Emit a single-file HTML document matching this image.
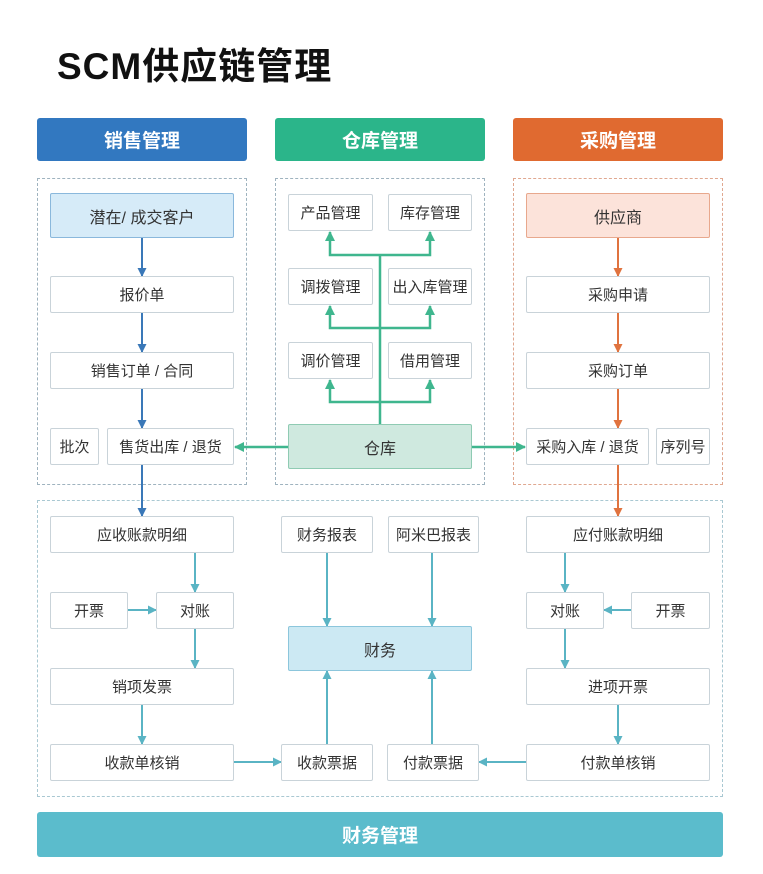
<!DOCTYPE html>
<html><head><meta charset="utf-8"><style>
body{margin:0;width:763px;height:874px;background:#fff;position:relative;overflow:hidden;font-family:"Liberation Sans","Noto Sans CJK SC",sans-serif;}
.a{position:absolute;box-sizing:border-box;display:flex;align-items:center;justify-content:center;}
.h{color:#fff;font-weight:bold;font-size:19px;border-radius:3px;}
.b{border:1px solid #c9d3d9;background:#fff;color:#333;font-size:15px;border-radius:2px;}
.d{border:1px dashed #9fb3bf;}
svg{position:absolute;left:0;top:0}
</style></head><body>
<div class="a" style="left:57px;top:36px;font-size:37px;letter-spacing:1px;font-weight:bold;color:#111;">SCM供应链管理</div>
<div class="a h" style="left:37px;top:118px;width:210px;height:43px;background:#3278c0">销售管理</div>
<div class="a h" style="left:275px;top:118px;width:210px;height:43px;background:#2bb58a">仓库管理</div>
<div class="a h" style="left:513px;top:118px;width:210px;height:43px;background:#e06a30">采购管理</div>
<div class="a d" style="left:37px;top:178px;width:210px;height:307px"></div>
<div class="a d" style="left:275px;top:178px;width:210px;height:307px"></div>
<div class="a d" style="left:513px;top:178px;width:210px;height:307px;border-color:#e0a890"></div>
<div class="a d" style="left:37px;top:500px;width:686px;height:297px;border-color:#a9c8d2"></div>
<div class="a h" style="left:37px;top:812px;width:686px;height:45px;background:#5bbccc">财务管理</div>

<svg width="763" height="874">
<defs>
<marker id="mb" markerWidth="9" markerHeight="9" refX="8" refY="4.5" orient="auto" markerUnits="userSpaceOnUse"><path d="M0,0L9,4.5L0,9z" fill="#3a78b8"/></marker>
<marker id="mg" markerWidth="10" markerHeight="10" refX="9" refY="5" orient="auto" markerUnits="userSpaceOnUse"><path d="M0,0L10,5L0,10z" fill="#3fb68e"/></marker>
<marker id="mo" markerWidth="9" markerHeight="9" refX="8" refY="4.5" orient="auto" markerUnits="userSpaceOnUse"><path d="M0,0L9,4.5L0,9z" fill="#e0733f"/></marker>
<marker id="mt" markerWidth="9" markerHeight="9" refX="8" refY="4.5" orient="auto" markerUnits="userSpaceOnUse"><path d="M0,0L9,4.5L0,9z" fill="#5ab4c4"/></marker>
</defs>
<g stroke="#3a78b8" stroke-width="2" fill="none" marker-end="url(#mb)">
<line x1="142" y1="238" x2="142" y2="276"/><line x1="142" y1="313" x2="142" y2="352"/><line x1="142" y1="389" x2="142" y2="428"/><line x1="142" y1="465" x2="142" y2="516"/>
</g>
<g stroke="#e0733f" stroke-width="2" fill="none" marker-end="url(#mo)">
<line x1="618" y1="238" x2="618" y2="276"/><line x1="618" y1="313" x2="618" y2="352"/><line x1="618" y1="389" x2="618" y2="428"/><line x1="618" y1="465" x2="618" y2="516"/>
</g>
<g stroke="#3fb68e" stroke-width="2.5" fill="none">
<line x1="380" y1="424" x2="380" y2="255"/>
</g>
<g stroke="#3fb68e" stroke-width="2.5" fill="none" marker-end="url(#mg)">
<polyline points="380,255 330,255 330,232"/><polyline points="380,255 430,255 430,232"/>
<polyline points="380,328 330,328 330,306"/><polyline points="380,328 430,328 430,306"/>
<polyline points="380,402 330,402 330,380"/><polyline points="380,402 430,402 430,380"/>
<line x1="288" y1="447" x2="235" y2="447"/><line x1="472" y1="447" x2="525" y2="447"/>
</g>
<g stroke="#5ab4c4" stroke-width="2" fill="none" marker-end="url(#mt)">
<line x1="195" y1="553" x2="195" y2="592"/><line x1="195" y1="629" x2="195" y2="668"/><line x1="142" y1="705" x2="142" y2="744"/>
<line x1="128" y1="610" x2="156" y2="610"/><line x1="234" y1="762" x2="281" y2="762"/>
<line x1="526" y1="762" x2="479" y2="762"/>
<line x1="327" y1="553" x2="327" y2="626"/><line x1="432" y1="553" x2="432" y2="626"/>
<line x1="327" y1="744" x2="327" y2="671"/><line x1="432" y1="744" x2="432" y2="671"/>
<line x1="565" y1="553" x2="565" y2="592"/><line x1="565" y1="629" x2="565" y2="668"/><line x1="618" y1="705" x2="618" y2="744"/>
<line x1="631" y1="610" x2="604" y2="610"/>
</g>
</svg>

<div class="a b" style="left:50px;top:193px;width:184px;height:45px;background:#d6ebf8;border-color:#8ab8dc;font-size:16px">潜在/ 成交客户</div>
<div class="a b" style="left:50px;top:276px;width:184px;height:37px">报价单</div>
<div class="a b" style="left:50px;top:352px;width:184px;height:37px">销售订单 / 合同</div>
<div class="a b" style="left:50px;top:428px;width:49px;height:37px">批次</div>
<div class="a b" style="left:107px;top:428px;width:127px;height:37px">售货出库 / 退货</div>

<div class="a b" style="left:288px;top:194px;width:85px;height:37px">产品管理</div>
<div class="a b" style="left:388px;top:194px;width:84px;height:37px">库存管理</div>
<div class="a b" style="left:288px;top:268px;width:85px;height:37px">调拨管理</div>
<div class="a b" style="left:388px;top:268px;width:84px;height:37px">出入库管理</div>
<div class="a b" style="left:288px;top:342px;width:85px;height:37px">调价管理</div>
<div class="a b" style="left:388px;top:342px;width:84px;height:37px">借用管理</div>
<div class="a b" style="left:288px;top:424px;width:184px;height:45px;background:#cfe9df;border-color:#8fcbb3;font-size:16px">仓库</div>

<div class="a b" style="left:526px;top:193px;width:184px;height:45px;background:#fce3da;border-color:#e8a88d;font-size:16px">供应商</div>
<div class="a b" style="left:526px;top:276px;width:184px;height:37px">采购申请</div>
<div class="a b" style="left:526px;top:352px;width:184px;height:37px">采购订单</div>
<div class="a b" style="left:526px;top:428px;width:123px;height:37px">采购入库 / 退货</div>
<div class="a b" style="left:656px;top:428px;width:54px;height:37px">序列号</div>

<div class="a b" style="left:50px;top:516px;width:184px;height:37px">应收账款明细</div>
<div class="a b" style="left:50px;top:592px;width:78px;height:37px">开票</div>
<div class="a b" style="left:156px;top:592px;width:78px;height:37px">对账</div>
<div class="a b" style="left:50px;top:668px;width:184px;height:37px">销项发票</div>
<div class="a b" style="left:50px;top:744px;width:184px;height:37px">收款单核销</div>

<div class="a b" style="left:281px;top:516px;width:92px;height:37px">财务报表</div>
<div class="a b" style="left:388px;top:516px;width:91px;height:37px">阿米巴报表</div>
<div class="a b" style="left:288px;top:626px;width:184px;height:45px;background:#cce9f3;border-color:#8cc6dc;font-size:16px">财务</div>
<div class="a b" style="left:281px;top:744px;width:92px;height:37px">收款票据</div>
<div class="a b" style="left:387px;top:744px;width:92px;height:37px">付款票据</div>

<div class="a b" style="left:526px;top:516px;width:184px;height:37px">应付账款明细</div>
<div class="a b" style="left:526px;top:592px;width:78px;height:37px">对账</div>
<div class="a b" style="left:631px;top:592px;width:79px;height:37px">开票</div>
<div class="a b" style="left:526px;top:668px;width:184px;height:37px">进项开票</div>
<div class="a b" style="left:526px;top:744px;width:184px;height:37px">付款单核销</div>
</body></html>
